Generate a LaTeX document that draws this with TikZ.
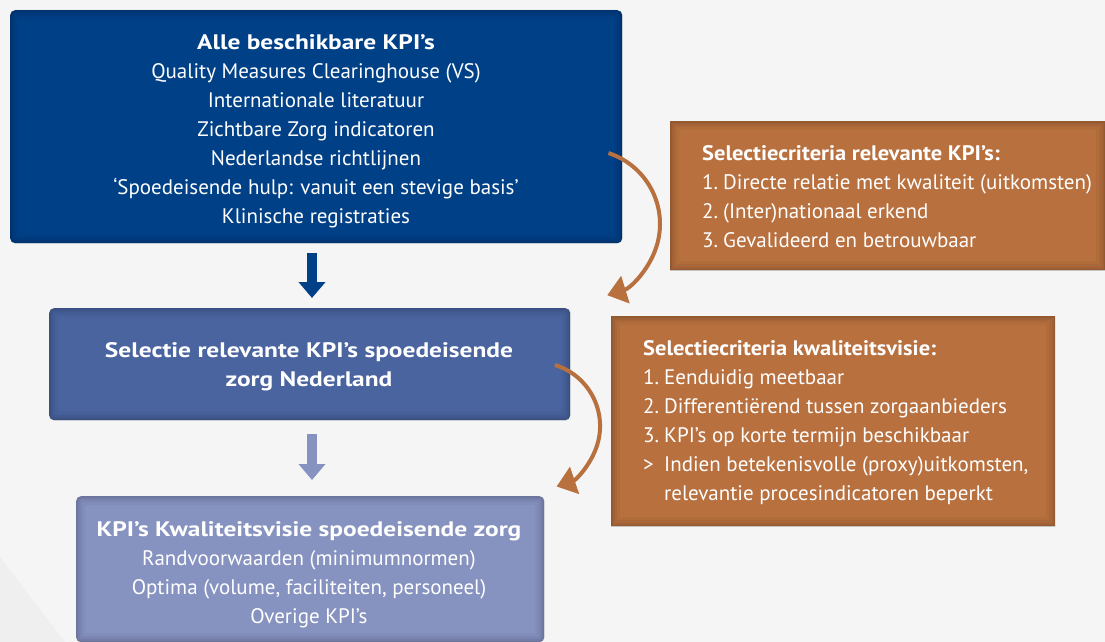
\documentclass[tikz,border=0pt]{standalone}
\usepackage{fontspec}
\setmainfont{PT Sans}
\newfontfamily\btfont{PT Sans}[FakeStretch=1.21]
\newfontfamily\otfont{PT Sans}[FakeStretch=1.07]
\usetikzlibrary{arrows.meta}
\definecolor{bgc}{HTML}{F5F5F5}
\definecolor{bgd}{HTML}{EFEFEF}
\definecolor{navy}{HTML}{004087}
\definecolor{midblue}{HTML}{4A64A0}
\definecolor{lightblue}{HTML}{8692C0}
\definecolor{ochre}{HTML}{B8703F}
\newcommand\innershade[2]{%
  \begin{scope}
    \clip[rounded corners=#2] (#1.south west) rectangle (#1.north east);
    \foreach \w/\o in {18/0.035,12/0.045,7/0.055,3/0.07}{
      \draw[black,opacity=\o,line width=\w pt,rounded corners=#2] (#1.south west) rectangle (#1.north east);}
  \end{scope}}
\tikzset{
  box/.style={anchor=north west, inner sep=0pt, rounded corners=5pt},
  obox/.style={anchor=north west, inner sep=0pt, fill=ochre},
  txt/.style={text=white, align=center, inner sep=0pt, font=\fontsize{21pt}{29pt}\selectfont},
  otxt/.style={text=white, align=left, inner sep=0pt, anchor=north west, font=\fontsize{21pt}{29pt}\selectfont},
  barrow/.style={line width=10pt, -{Triangle[width=26pt,length=16pt]}},
  carrow/.style={ochre, line width=4pt, -{Triangle[width=28pt,length=19pt]}}
}
\newcommand\bt[1]{{\btfont\bfseries #1}}
\newcommand\ot[1]{{\otfont\bfseries #1}}
\newcommand\itm[1]{\makebox[21pt][l]{#1}}
\begin{document}
\begin{tikzpicture}[x=1pt,y=-1pt]
\useasboundingbox (0,0) rectangle (1105,642);
\fill[bgc] (0,0) rectangle (1105,642);
\fill[bgd] (0,557) -- (65,642) -- (0,642) -- cycle;

% boxes
\node[box, fill=navy, minimum width=612pt, minimum height=233pt] (b1) at (10,10) {};
\innershade{b1}{5pt}
\node[box, fill=midblue, minimum width=521pt, minimum height=112pt] (b2) at (49,308) {};
\innershade{b2}{5pt}
\node[box, fill=lightblue, minimum width=468pt, minimum height=146pt] (b3) at (76,496) {};
\innershade{b3}{5pt}
\node[obox, minimum width=435pt, minimum height=149pt] (o1) at (670,121) {};
\innershade{o1}{0pt}
\node[obox, minimum width=444pt, minimum height=210pt] (o2) at (611,316) {};
\innershade{o2}{0pt}

% texts
\node[txt] (t1) at (316,131) {\bt{Alle beschikbare KPI’s}\\
Quality Measures Clearinghouse (VS)\\
Internationale literatuur\\
Zichtbare Zorg indicatoren\\
Nederlandse richtlijnen\\
‘Spoedeisende hulp: vanuit een stevige basis’\\
Klinische registraties};
\node[txt] (t2) at (309,366.5) {\bt{Selectie relevante KPI’s spoedeisende}\\
\bt{zorg Nederland}};
\node[txt] (t3) at (309,575) {\bt{KPI’s Kwaliteitsvisie spoedeisende zorg}\\
Randvoorwaarden (minimumnormen)\\
Optima (volume, faciliteiten, personeel)\\
Overige KPI’s};
\node[otxt] (t4) at (702,145) {\ot{Selectiecriteria relevante KPI’s:}\\
\itm{1.}Directe relatie met kwaliteit (uitkomsten)\\
\itm{2.}(Inter)nationaal erkend\\
\itm{3.}Gevalideerd en betrouwbaar};
\node[otxt] (t5) at (643,340) {\ot{Selectiecriteria kwaliteitsvisie:}\\
\itm{1.}Eenduidig meetbaar\\
\itm{2.}Differentiërend tussen zorgaanbieders\\
\itm{3.}KPI’s op korte termijn beschikbaar\\
\itm{>}Indien betekenisvolle (proxy)uitkomsten,\\
\itm{}relevantie procesindicatoren beperkt};

% straight arrows
\coordinate (ax) at (312,0);
\draw[barrow, navy, shorten <=10pt, shorten >=10pt] (b1.south -| ax) -- (b2.north -| ax);
\draw[barrow, lightblue, shorten <=14pt, shorten >=16pt] (b2.south -| ax) -- (b3.north -| ax);

% curved arrows
\coordinate (c1) at (608.5,153.1);
\coordinate (c2) at (554.9,365);
\draw[carrow] (c1) arc[start angle=-72, end angle=73, radius=74.5];
\draw[carrow] (c2) arc[start angle=-73, end angle=71.4, radius=63.8];
\end{tikzpicture}
\end{document}
